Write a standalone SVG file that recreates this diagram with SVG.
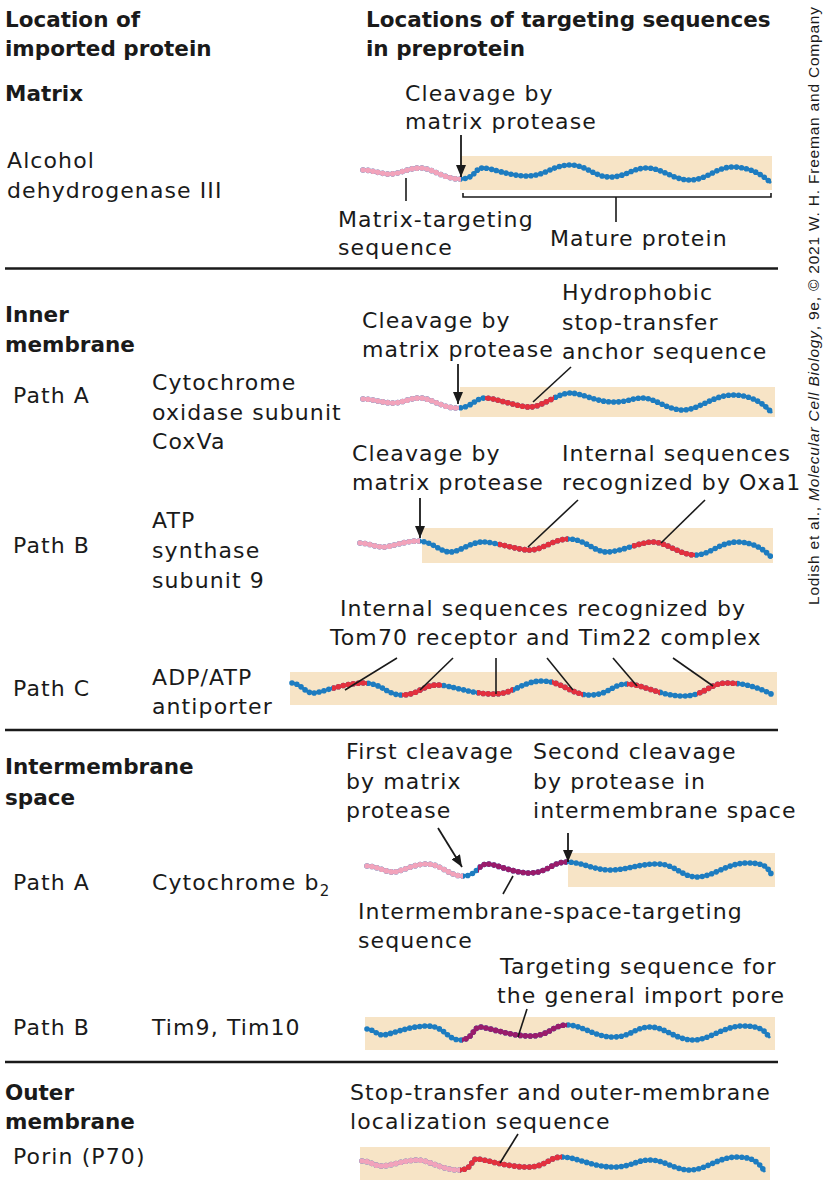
<svg xmlns="http://www.w3.org/2000/svg" xmlns:xlink="http://www.w3.org/1999/xlink" width="825" height="1186" viewBox="0 0 825 1186">
<style>
text{font-family:"DejaVu Sans","Liberation Sans",sans-serif;font-size:22px;fill:#1a1a1a;letter-spacing:1.1px}
.b{font-weight:bold;font-size:21.5px;letter-spacing:0}
.cr{font-family:"Liberation Sans",Arial,sans-serif;font-size:15.5px;letter-spacing:0}
.bg{fill:#f7e4c6}
.sep{stroke:#1a1a1a;stroke-width:2.5}
.ptr{stroke:#1a1a1a;stroke-width:1.6;fill:none}
.arr{stroke:#1a1a1a;stroke-width:1.8;fill:none;marker-end:url(#ah)}
.ln{fill:none;stroke-width:2.6}
.dt{fill:none;stroke-width:5.6;stroke-dasharray:0 5;stroke-linecap:round}
.blue{stroke:#1d7cc0}
.pink{stroke:#f2a3bb}
.red{stroke:#e3303e}
.pur{stroke:#9a1b6b}
</style>
<defs>
<marker id="ah" viewBox="0 0 12 10" refX="12" refY="5" markerWidth="12" markerHeight="10" markerUnits="userSpaceOnUse" orient="auto">
<path d="M0 0 L12 5 L0 10 z" fill="#1a1a1a"/>
</marker>
<path id="p1" d="M363 170 C372 170,380 174,390 174 S408 168,420 168 S444 179,460 179 S474 168,483 168 S509 176,527 176 S553 165,570 165 S594 177,610 177 S632 168,647 168 S673 180,690 180 S716 167,733 167 S763 175,771 183"/>
<path id="p2" d="M363 399 C373 399,383 403,393 403 S409 398,420 398 S442 408,457 408 S475 398,485 398 S518 407,530 407 S558 393,570 393 S596 402,613 402 S631 398,643 398 S667 410,683 410 S713 395,733 395 S765 405,772 413"/>
<path id="p3" d="M360 543 C368 543,375 547,383 547 S404 541,418 541 S440 552,450 552 S470 542,483 542 S517 550,530 550 S553 539,569 539 S594 552,607 552 S640 542,653 542 S680 555,695 555 S720 542,737 542 S765 550,772 558"/>
<path id="p4" d="M292 683 C300 683,305 693,313 693 S343 683,363 683 S386 695,402 695 S423 685,437 685 S471 694,493 694 S522 681,542 681 S571 695,590 695 S612 684,627 684 S661 696,683 696 S709 683,727 683 S760 688,773 695"/>
<path id="p5" d="M367 866 C377 866,385 872,393 872 S413 864,427 864 S449 876,463 876 S478 864,487 864 S513 873,530 873 S552 862,567 862 S593 870,610 870 S638 864,657 864 S681 877,697 877 S727 863,747 863 S767 868,772 875"/>
<path id="p6" d="M367 1029 C373 1029,377 1035,383 1035 S409 1026,427 1026 S447 1040,460 1040 S473 1027,480 1027 S510 1036,530 1036 S552 1025,567 1025 S595 1037,613 1037 S635 1027,650 1027 S676 1040,693 1040 S723 1026,743 1026 S765 1032,770 1038"/>
<path id="p7" d="M362 1161 C370 1161,374 1166,382 1166 S405 1160,417 1160 S442 1170,458 1170 S470 1159,477 1159 S507 1167,527 1167 S548 1157,562 1157 S593 1167,613 1167 S635 1160,650 1160 S674 1170,690 1170 S718 1157,737 1157 S760 1165,765 1172"/>
<clipPath id="k1p"><rect x="300" y="0" width="161" height="1186"/></clipPath>
<clipPath id="k2p"><rect x="300" y="0" width="159" height="1186"/></clipPath>
<clipPath id="k2r"><rect x="485" y="0" width="69" height="1186"/></clipPath>
<clipPath id="k3p"><rect x="300" y="0" width="120" height="1186"/></clipPath>
<clipPath id="k3r"><rect x="498" y="0" width="70" height="1186"/><rect x="632" y="0" width="63" height="1186"/></clipPath>
<clipPath id="k4r"><rect x="332" y="0" width="35" height="1186"/><rect x="402" y="0" width="40" height="1186"/><rect x="477" y="0" width="36" height="1186"/><rect x="552" y="0" width="31" height="1186"/><rect x="627" y="0" width="33" height="1186"/><rect x="697" y="0" width="40" height="1186"/></clipPath>
<clipPath id="k5p"><rect x="300" y="0" width="163" height="1186"/></clipPath>
<clipPath id="k5u"><rect x="478" y="0" width="89" height="1186"/></clipPath>
<clipPath id="k6u"><rect x="462" y="0" width="105" height="1186"/></clipPath>
<clipPath id="k7p"><rect x="300" y="0" width="160" height="1186"/></clipPath>
<clipPath id="k7r"><rect x="460" y="0" width="102" height="1186"/></clipPath>
</defs>

<g id="headers">
<text class="b" x="5" y="27">Location of</text>
<text class="b" x="5" y="56">imported protein</text>
<text class="b" x="366" y="27">Locations of targeting sequences</text>
<text class="b" x="366" y="56">in preprotein</text>
</g>

<g id="separators">
<line class="sep" x1="5" y1="268.5" x2="778" y2="268.5"/>
<line class="sep" x1="5" y1="730" x2="778" y2="730"/>
<line class="sep" x1="5" y1="1062" x2="778" y2="1062"/>
</g>

<g id="matrix">
<text class="b" x="5" y="101">Matrix</text>
<text x="7" y="168">Alcohol</text>
<text x="7" y="198">dehydrogenase III</text>
<text x="405" y="101">Cleavage by</text>
<text x="405" y="129">matrix protease</text>
<rect class="bg" x="460" y="156" width="312" height="34"/>
<g class="chain">
<use href="#p1" class="ln blue"/><use href="#p1" class="dt blue"/>
<g clip-path="url(#k1p)"><use href="#p1" class="ln pink"/><use href="#p1" class="dt pink"/></g>
</g>
<text x="338" y="227">Matrix-targeting</text>
<text x="338" y="255">sequence</text>
<text x="550" y="246">Mature protein</text>
</g>

<g id="inner-a">
<text class="b" x="5" y="322">Inner</text>
<text class="b" x="5" y="352">membrane</text>
<text x="13" y="403">Path A</text>
<text x="152" y="390">Cytochrome</text>
<text x="152" y="420">oxidase subunit</text>
<text x="152" y="449">CoxVa</text>
<text x="362" y="328">Cleavage by</text>
<text x="362" y="357">matrix protease</text>
<text x="562" y="300">Hydrophobic</text>
<text x="562" y="330">stop-transfer</text>
<text x="562" y="359">anchor sequence</text>
<rect class="bg" x="460" y="387" width="315" height="30"/>
<g class="chain">
<use href="#p2" class="ln blue"/><use href="#p2" class="dt blue"/>
<g clip-path="url(#k2p)"><use href="#p2" class="ln pink"/><use href="#p2" class="dt pink"/></g>
<g clip-path="url(#k2r)"><use href="#p2" class="ln red"/><use href="#p2" class="dt red"/></g>
</g>
</g>

<g id="inner-b">
<text x="13" y="553">Path B</text>
<text x="152" y="528">ATP</text>
<text x="152" y="558">synthase</text>
<text x="152" y="588">subunit 9</text>
<text x="352" y="461">Cleavage by</text>
<text x="352" y="490">matrix protease</text>
<text x="562" y="461">Internal sequences</text>
<text x="562" y="490">recognized by Oxa1</text>
<rect class="bg" x="422" y="528" width="351" height="35"/>
<g class="chain">
<use href="#p3" class="ln blue"/><use href="#p3" class="dt blue"/>
<g clip-path="url(#k3p)"><use href="#p3" class="ln pink"/><use href="#p3" class="dt pink"/></g>
<g clip-path="url(#k3r)"><use href="#p3" class="ln red"/><use href="#p3" class="dt red"/></g>
</g>
</g>

<g id="inner-c">
<text x="13" y="696">Path C</text>
<text x="152" y="685">ADP/ATP</text>
<text x="152" y="714">antiporter</text>
<text x="340" y="616">Internal sequences recognized by</text>
<text x="330" y="645">Tom70 receptor and Tim22 complex</text>
<rect class="bg" x="290" y="672" width="487" height="33"/>
<g class="chain">
<use href="#p4" class="ln blue"/><use href="#p4" class="dt blue"/>
<g clip-path="url(#k4r)"><use href="#p4" class="ln red"/><use href="#p4" class="dt red"/></g>
</g>
</g>

<g id="ims-a">
<text class="b" x="5" y="774">Intermembrane</text>
<text class="b" x="5" y="805">space</text>
<text x="346" y="759">First cleavage</text>
<text x="346" y="789">by matrix</text>
<text x="346" y="818">protease</text>
<text x="533" y="759">Second cleavage</text>
<text x="533" y="789">by protease in</text>
<text x="533" y="818">intermembrane space</text>
<text x="13" y="890">Path A</text>
<text x="152" y="890">Cytochrome b<tspan dy="6" font-size="15">2</tspan></text>
<rect class="bg" x="568" y="853" width="207" height="34"/>
<g class="chain">
<use href="#p5" class="ln blue"/><use href="#p5" class="dt blue"/>
<g clip-path="url(#k5p)"><use href="#p5" class="ln pink"/><use href="#p5" class="dt pink"/></g>
<g clip-path="url(#k5u)"><use href="#p5" class="ln pur"/><use href="#p5" class="dt pur"/></g>
</g>
<text x="358" y="919">Intermembrane-space-targeting</text>
<text x="358" y="948">sequence</text>
</g>

<g id="ims-b">
<text x="500" y="974">Targeting sequence for</text>
<text x="497" y="1003">the general import pore</text>
<text x="13" y="1035">Path B</text>
<text x="152" y="1035">Tim9, Tim10</text>
<rect class="bg" x="365" y="1017" width="410" height="33"/>
<g class="chain">
<use href="#p6" class="ln blue"/><use href="#p6" class="dt blue"/>
<g clip-path="url(#k6u)"><use href="#p6" class="ln pur"/><use href="#p6" class="dt pur"/></g>
</g>
</g>

<g id="outer">
<text class="b" x="5" y="1100">Outer</text>
<text class="b" x="5" y="1129">membrane</text>
<text x="13" y="1164">Porin (P70)</text>
<text x="350" y="1100">Stop-transfer and outer-membrane</text>
<text x="350" y="1129">localization sequence</text>
<rect class="bg" x="360" y="1147" width="410" height="33"/>
<g class="chain">
<use href="#p7" class="ln blue"/><use href="#p7" class="dt blue"/>
<g clip-path="url(#k7p)"><use href="#p7" class="ln pink"/><use href="#p7" class="dt pink"/></g>
<g clip-path="url(#k7r)"><use href="#p7" class="ln red"/><use href="#p7" class="dt red"/></g>
</g>
</g>

<g id="connectors">
<line class="arr" x1="461" y1="135" x2="461" y2="177"/>
<line class="ptr" x1="406" y1="178" x2="406" y2="201"/>
<path class="ptr" d="M463 193 V197 H771 V193 M616 197 V222"/>
<line class="arr" x1="458" y1="364" x2="458" y2="404"/>
<line class="ptr" x1="571" y1="367" x2="533" y2="402"/>
<line class="arr" x1="420" y1="498" x2="420" y2="538"/>
<line class="ptr" x1="578" y1="500" x2="528" y2="547"/>
<line class="ptr" x1="705" y1="500" x2="661" y2="543"/>
<line class="ptr" x1="397" y1="658" x2="345" y2="690"/>
<line class="ptr" x1="453" y1="658" x2="420" y2="690"/>
<line class="ptr" x1="496" y1="658" x2="496" y2="694"/>
<line class="ptr" x1="547" y1="658" x2="573" y2="690"/>
<line class="ptr" x1="613" y1="658" x2="637" y2="686"/>
<line class="ptr" x1="673" y1="658" x2="713" y2="686"/>
<line class="arr" x1="438" y1="828" x2="462" y2="867"/>
<line class="arr" x1="568" y1="833" x2="568" y2="862"/>
<line class="ptr" x1="513" y1="876" x2="503" y2="894"/>
<line class="ptr" x1="527" y1="1009" x2="518" y2="1037"/>
<line class="ptr" x1="518" y1="1134" x2="500" y2="1163"/>
</g>

<text class="cr" transform="translate(819,605) rotate(-90)" textLength="598" lengthAdjust="spacing">Lodish et al., <tspan font-style="italic">Molecular Cell Biology</tspan>, 9e, © 2021 W. H. Freeman and Company</text>
</svg>
